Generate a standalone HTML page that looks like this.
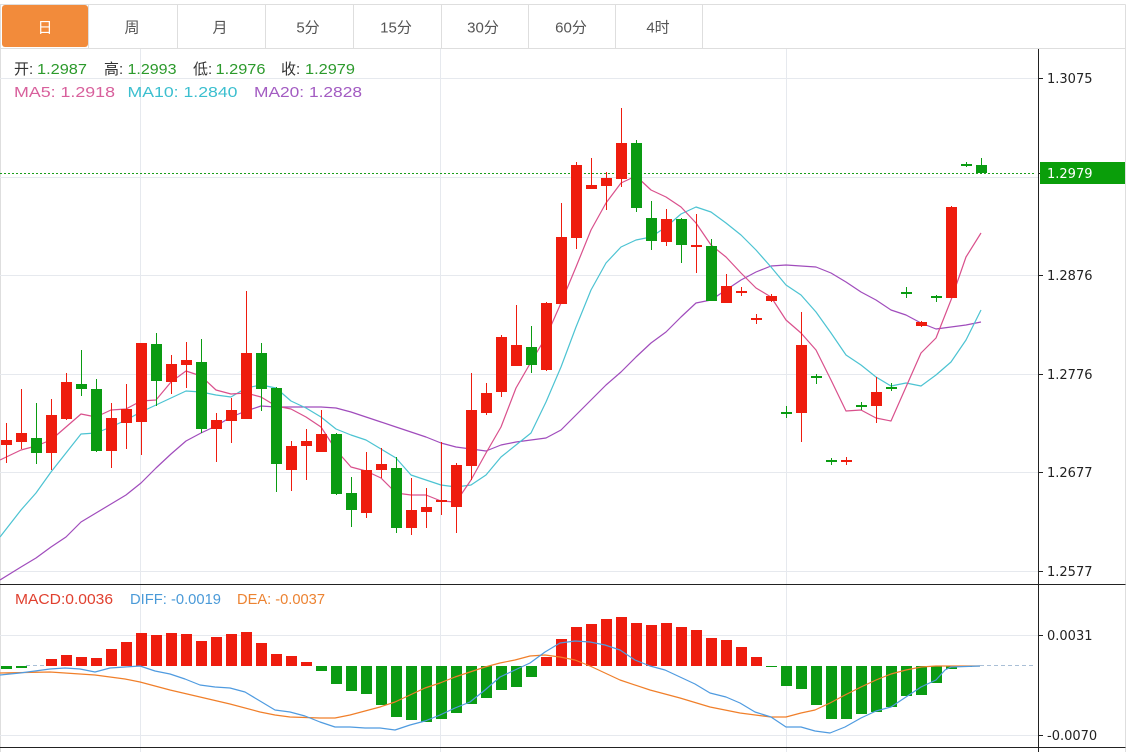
<!DOCTYPE html>
<html><head><meta charset="utf-8"><style>
html,body{margin:0;padding:0;background:#fff;}
svg{display:block;}
.t{font-family:"Liberation Sans","Noto Sans CJK SC",sans-serif;}
.ax{font-family:"DejaVu Sans","Liberation Sans",sans-serif;font-size:13px;fill:#222;}
</style></head><body>
<svg width="1135" height="752" viewBox="0 0 1135 752" xmlns="http://www.w3.org/2000/svg">
<rect width="1135" height="752" fill="#fff"/>
<g stroke="#dedede" stroke-width="1" fill="none">
<line x1="0" y1="4.5" x2="1125.5" y2="4.5"/>
<line x1="0" y1="48.5" x2="1125.5" y2="48.5"/>
<line x1="1125.5" y1="4.5" x2="1125.5" y2="752"/>
<line x1="0.5" y1="4.5" x2="0.5" y2="752"/>
<line x1="88.5" y1="5" x2="88.5" y2="48"/>
<line x1="177.5" y1="5" x2="177.5" y2="48"/>
<line x1="265.5" y1="5" x2="265.5" y2="48"/>
<line x1="353.5" y1="5" x2="353.5" y2="48"/>
<line x1="441.5" y1="5" x2="441.5" y2="48"/>
<line x1="528.5" y1="5" x2="528.5" y2="48"/>
<line x1="615.5" y1="5" x2="615.5" y2="48"/>
<line x1="702.5" y1="5" x2="702.5" y2="48"/>
</g>
<rect x="2" y="5" width="86" height="42" rx="3" fill="#f28b3b"/>
<g class="t" font-size="15" text-anchor="middle" fill="#555">
<text x="45" y="32.5" fill="#fff">日</text>
<text x="132" y="32.5">周</text>
<text x="220" y="32.5">月</text>
<text x="308" y="32.5">5分</text>
<text x="396" y="32.5">15分</text>
<text x="483" y="32.5">30分</text>
<text x="571" y="32.5">60分</text>
<text x="658" y="32.5">4时</text>
</g>
<g stroke="#e6e9ee" stroke-width="1">
<line x1="0" y1="78.5" x2="1038" y2="78.5"/>
<line x1="0" y1="177.5" x2="1038" y2="177.5"/>
<line x1="0" y1="275.5" x2="1038" y2="275.5"/>
<line x1="0" y1="374.5" x2="1038" y2="374.5"/>
<line x1="0" y1="472.5" x2="1038" y2="472.5"/>
<line x1="0" y1="571.5" x2="1038" y2="571.5"/>
<line x1="0" y1="635.5" x2="1038" y2="635.5"/>
<line x1="0" y1="735.5" x2="1038" y2="735.5"/>
<line x1="140.5" y1="49" x2="140.5" y2="752"/>
<line x1="440.5" y1="49" x2="440.5" y2="752"/>
<line x1="786.5" y1="49" x2="786.5" y2="752"/>
</g>
<g class="t" font-size="15">
<text x="14" y="74" fill="#333">开:</text>
<text x="37" y="74" fill="#2c9a2c" textLength="50" lengthAdjust="spacingAndGlyphs">1.2987</text>
<text x="104" y="74" fill="#333">高:</text>
<text x="127.5" y="74" fill="#2c9a2c" textLength="49" lengthAdjust="spacingAndGlyphs">1.2993</text>
<text x="193" y="74" fill="#333">低:</text>
<text x="215.5" y="74" fill="#2c9a2c" textLength="50" lengthAdjust="spacingAndGlyphs">1.2976</text>
<text x="281" y="74" fill="#333">收:</text>
<text x="305" y="74" fill="#2c9a2c" textLength="50" lengthAdjust="spacingAndGlyphs">1.2979</text>
<text x="14" y="97" fill="#d8609c" textLength="101" lengthAdjust="spacingAndGlyphs">MA5: 1.2918</text>
<text x="127.5" y="97" fill="#3cbfcf" textLength="110" lengthAdjust="spacingAndGlyphs">MA10: 1.2840</text>
<text x="254" y="97" fill="#a35cc2" textLength="108" lengthAdjust="spacingAndGlyphs">MA20: 1.2828</text>
<text x="15" y="604" fill="#e0402f" textLength="98" lengthAdjust="spacingAndGlyphs">MACD:0.0036</text>
<text x="130" y="604" fill="#4a9ad8" textLength="91" lengthAdjust="spacingAndGlyphs">DIFF: -0.0019</text>
<text x="237" y="604" fill="#ec8332" textLength="88" lengthAdjust="spacingAndGlyphs">DEA: -0.0037</text>
</g>
<line x1="0" y1="173.5" x2="1036" y2="173.5" stroke="#1a9e1a" stroke-width="1" stroke-dasharray="2,2"/>
<g fill="none" stroke-width="1.2" stroke-linejoin="round">
<polyline stroke="#a04cbc" points="0,580 21,567 36,558 51,547 66,537 81,522 96,513 111,504 126,495 141,483 156,468 171,454 186,441 201,433 216,426 231,417 246,411 261,406 276,407 291,407 306,407 321,407 336,408 351,412 366,417 381,422 396,427 411,432 426,437 441,443 456,447 471,449 486,451 501,445 516,442 531,440 546,438 561,430 576,415 591,400 606,385 621,372 636,357 651,343 666,332 681,317 696,303 711,300 726,290 741,280 756,272 771,266 786,265 801,266 816,267 831,273 846,282 861,292 876,300 891,310 906,315 921,323 936,329 951,327 966,325 981,322"/>
<polyline stroke="#4cc3d2" points="0,537 21,510 36,493 51,472 66,453 81,434 96,433 111,427 126,420 141,412 156,405 171,398 186,391 201,392 216,395 231,397 246,388 261,385 276,388 291,401 306,408 321,417 336,429 351,435 366,440 381,449 396,458 411,475 426,480 441,485 456,487 471,485 486,475 501,457 516,445 531,433 546,402 561,367 576,327 591,290 606,263 621,247 636,240 651,237 666,227 681,214 696,207 711,212 726,223 741,235 756,250 771,267 786,285 801,295 816,312 831,333 846,355 861,365 876,377 891,386 906,383 921,386 936,375 951,362 966,340 981,310"/>
<polyline stroke="#d9508c" points="0,460 21,450 36,446 51,440 66,427 81,414 96,417 111,410 126,409 141,401 156,400 171,382 186,371 201,376 216,390 231,394 246,393 261,397 276,406 291,409 306,417 321,427 336,450 351,467 366,471 381,478 396,493 411,495 426,495 441,501 456,502 471,480 486,453 501,427 516,388 531,362 546,337 561,303 576,267 591,230 606,203 621,183 636,176 651,190 666,197 681,207 696,223 711,245 726,257 741,273 756,288 771,297 786,320 801,333 816,350 831,380 846,411 861,410 876,418 891,421 906,387 921,353 936,338 951,300 966,257 981,233"/>
</g>
<g fill="#ee1c0e">
<rect x="1" y="440" width="11" height="5"/><rect x="6" y="423" width="1" height="40"/>
<rect x="16" y="433" width="11" height="9"/><rect x="21" y="389" width="1" height="60"/>
<rect x="46" y="415" width="11" height="38"/><rect x="51" y="399" width="1" height="71"/>
<rect x="61" y="382" width="11" height="37"/><rect x="66" y="373" width="1" height="47"/>
<rect x="106" y="418" width="11" height="33"/><rect x="111" y="403" width="1" height="65"/>
<rect x="121" y="409" width="11" height="14"/><rect x="126" y="384" width="1" height="65"/>
<rect x="136" y="343" width="11" height="79"/><rect x="141" y="343" width="1" height="112"/>
<rect x="166" y="364" width="11" height="18"/><rect x="171" y="355" width="1" height="39"/>
<rect x="181" y="360" width="11" height="5"/><rect x="186" y="342" width="1" height="46"/>
<rect x="211" y="420" width="11" height="9"/><rect x="216" y="413" width="1" height="49"/>
<rect x="226" y="410" width="11" height="11"/><rect x="231" y="398" width="1" height="45"/>
<rect x="241" y="353" width="11" height="66"/><rect x="246" y="291" width="1" height="128"/>
<rect x="286" y="446" width="11" height="24"/><rect x="291" y="441" width="1" height="50"/>
<rect x="301" y="441" width="11" height="5"/><rect x="306" y="429" width="1" height="51"/>
<rect x="316" y="434" width="11" height="18"/><rect x="321" y="410" width="1" height="42"/>
<rect x="361" y="470" width="11" height="43"/><rect x="366" y="452" width="1" height="66"/>
<rect x="376" y="464" width="11" height="6"/><rect x="381" y="448" width="1" height="30"/>
<rect x="406" y="510" width="11" height="18"/><rect x="411" y="478" width="1" height="57"/>
<rect x="421" y="507" width="11" height="5"/><rect x="426" y="488" width="1" height="40"/>
<rect x="436" y="500" width="11" height="2"/><rect x="441" y="442" width="1" height="73"/>
<rect x="451" y="465" width="11" height="42"/><rect x="456" y="463" width="1" height="70"/>
<rect x="466" y="410" width="11" height="56"/><rect x="471" y="373" width="1" height="107"/>
<rect x="481" y="393" width="11" height="20"/><rect x="486" y="383" width="1" height="32"/>
<rect x="496" y="337" width="11" height="55"/><rect x="501" y="335" width="1" height="62"/>
<rect x="511" y="345" width="11" height="21"/><rect x="516" y="305" width="1" height="61"/>
<rect x="541" y="303" width="11" height="67"/><rect x="546" y="302" width="1" height="69"/>
<rect x="556" y="237" width="11" height="67"/><rect x="561" y="203" width="1" height="101"/>
<rect x="571" y="165" width="11" height="73"/><rect x="576" y="162" width="1" height="87"/>
<rect x="586" y="185" width="11" height="4"/><rect x="591" y="158" width="1" height="31"/>
<rect x="601" y="178" width="11" height="8"/><rect x="606" y="172" width="1" height="38"/>
<rect x="616" y="143" width="11" height="36"/><rect x="621" y="108" width="1" height="79"/>
<rect x="661" y="219" width="11" height="23"/><rect x="666" y="209" width="1" height="37"/>
<rect x="691" y="245" width="11" height="2"/><rect x="696" y="214" width="1" height="59"/>
<rect x="721" y="286" width="11" height="17"/><rect x="726" y="274" width="1" height="29"/>
<rect x="736" y="291" width="11" height="2"/><rect x="741" y="287" width="1" height="9"/>
<rect x="751" y="318" width="11" height="2"/><rect x="756" y="314" width="1" height="10"/>
<rect x="766" y="296" width="11" height="5"/><rect x="771" y="294" width="1" height="8"/>
<rect x="796" y="345" width="11" height="68"/><rect x="801" y="312" width="1" height="130"/>
<rect x="841" y="460" width="11" height="2"/><rect x="846" y="457" width="1" height="8"/>
<rect x="871" y="392" width="11" height="14"/><rect x="876" y="377" width="1" height="46"/>
<rect x="916" y="322" width="11" height="4"/><rect x="921" y="321" width="1" height="6"/>
<rect x="946" y="207" width="11" height="91"/><rect x="951" y="206" width="1" height="92"/>
</g>
<g fill="#0a9b12">
<rect x="31" y="438" width="11" height="15"/><rect x="36" y="403" width="1" height="61"/>
<rect x="76" y="384" width="11" height="5"/><rect x="81" y="350" width="1" height="46"/>
<rect x="91" y="389" width="11" height="62"/><rect x="96" y="379" width="1" height="73"/>
<rect x="151" y="344" width="11" height="37"/><rect x="156" y="333" width="1" height="73"/>
<rect x="196" y="362" width="11" height="67"/><rect x="201" y="339" width="1" height="94"/>
<rect x="256" y="353" width="11" height="36"/><rect x="261" y="343" width="1" height="68"/>
<rect x="271" y="388" width="11" height="76"/><rect x="276" y="387" width="1" height="105"/>
<rect x="331" y="434" width="11" height="60"/><rect x="336" y="433" width="1" height="62"/>
<rect x="346" y="493" width="11" height="17"/><rect x="351" y="477" width="1" height="50"/>
<rect x="391" y="468" width="11" height="60"/><rect x="396" y="457" width="1" height="76"/>
<rect x="526" y="347" width="11" height="18"/><rect x="531" y="326" width="1" height="47"/>
<rect x="631" y="143" width="11" height="65"/><rect x="636" y="140" width="1" height="72"/>
<rect x="646" y="218" width="11" height="23"/><rect x="651" y="201" width="1" height="49"/>
<rect x="676" y="219" width="11" height="26"/><rect x="681" y="218" width="1" height="45"/>
<rect x="706" y="246" width="11" height="55"/><rect x="711" y="239" width="1" height="62"/>
<rect x="781" y="412" width="11" height="2"/><rect x="786" y="406" width="1" height="12"/>
<rect x="811" y="376" width="11" height="2"/><rect x="816" y="374" width="1" height="10"/>
<rect x="826" y="460" width="11" height="2"/><rect x="831" y="458" width="1" height="7"/>
<rect x="856" y="405" width="11" height="2"/><rect x="861" y="402" width="1" height="8"/>
<rect x="886" y="387" width="11" height="2"/><rect x="891" y="383" width="1" height="8"/>
<rect x="901" y="292" width="11" height="2"/><rect x="906" y="287" width="1" height="11"/>
<rect x="931" y="296" width="11" height="2"/><rect x="936" y="295" width="1" height="7"/>
<rect x="961" y="164" width="11" height="2"/><rect x="966" y="162" width="1" height="5"/>
<rect x="976" y="165" width="11" height="8"/><rect x="981" y="158" width="1" height="16"/>
</g>
<g fill="#ee1c0e">
<rect x="46" y="659" width="11" height="7"/>
<rect x="61" y="655" width="11" height="11"/>
<rect x="76" y="657" width="11" height="9"/>
<rect x="91" y="658" width="11" height="8"/>
<rect x="106" y="649" width="11" height="17"/>
<rect x="121" y="642" width="11" height="24"/>
<rect x="136" y="633" width="11" height="33"/>
<rect x="151" y="635" width="11" height="31"/>
<rect x="166" y="633" width="11" height="33"/>
<rect x="181" y="634" width="11" height="32"/>
<rect x="196" y="641" width="11" height="25"/>
<rect x="211" y="637" width="11" height="29"/>
<rect x="226" y="634" width="11" height="32"/>
<rect x="241" y="632" width="11" height="34"/>
<rect x="256" y="643" width="11" height="23"/>
<rect x="271" y="654" width="11" height="12"/>
<rect x="286" y="656" width="11" height="10"/>
<rect x="301" y="662" width="11" height="4"/>
<rect x="541" y="657" width="11" height="9"/>
<rect x="556" y="639" width="11" height="27"/>
<rect x="571" y="627" width="11" height="39"/>
<rect x="586" y="624" width="11" height="42"/>
<rect x="601" y="619" width="11" height="47"/>
<rect x="616" y="617" width="11" height="49"/>
<rect x="631" y="623" width="11" height="43"/>
<rect x="646" y="625" width="11" height="41"/>
<rect x="661" y="623" width="11" height="43"/>
<rect x="676" y="627" width="11" height="39"/>
<rect x="691" y="630" width="11" height="36"/>
<rect x="706" y="638" width="11" height="28"/>
<rect x="721" y="640" width="11" height="26"/>
<rect x="736" y="647" width="11" height="19"/>
<rect x="751" y="657" width="11" height="9"/>
</g>
<g fill="#0a9b12">
<rect x="1" y="666" width="11" height="3"/>
<rect x="16" y="666" width="11" height="2"/>
<rect x="316" y="666" width="11" height="5"/>
<rect x="331" y="666" width="11" height="18"/>
<rect x="346" y="666" width="11" height="25"/>
<rect x="361" y="666" width="11" height="28"/>
<rect x="376" y="666" width="11" height="39"/>
<rect x="391" y="666" width="11" height="51"/>
<rect x="406" y="666" width="11" height="54"/>
<rect x="421" y="666" width="11" height="56"/>
<rect x="436" y="666" width="11" height="53"/>
<rect x="451" y="666" width="11" height="47"/>
<rect x="466" y="666" width="11" height="38"/>
<rect x="481" y="666" width="11" height="32"/>
<rect x="496" y="666" width="11" height="24"/>
<rect x="511" y="666" width="11" height="21"/>
<rect x="526" y="666" width="11" height="11"/>
<rect x="766" y="666" width="11" height="1"/>
<rect x="781" y="666" width="11" height="20"/>
<rect x="796" y="666" width="11" height="23"/>
<rect x="811" y="666" width="11" height="39"/>
<rect x="826" y="666" width="11" height="53"/>
<rect x="841" y="666" width="11" height="53"/>
<rect x="856" y="666" width="11" height="48"/>
<rect x="871" y="666" width="11" height="46"/>
<rect x="886" y="666" width="11" height="41"/>
<rect x="901" y="666" width="11" height="30"/>
<rect x="916" y="666" width="11" height="29"/>
<rect x="931" y="666" width="11" height="17"/>
<rect x="946" y="666" width="11" height="3"/>
<rect x="961" y="666" width="11" height="1"/>
</g>
<line x1="980" y1="665.5" x2="1036" y2="665.5" stroke="#a9bfd6" stroke-width="1" stroke-dasharray="4,3"/>
<line x1="26" y1="665.5" x2="46" y2="665.5" stroke="#a9bfd6" stroke-width="1" stroke-dasharray="4,3"/>
<g fill="none" stroke-width="1.2" stroke-linejoin="round">
<polyline stroke="#f07f2a" points="0,673 50,672 65,673 95,675 110,677 125,679 140,682 170,690 200,697 230,704 260,712 275,715 290,717 320,718 335,718 350,715 365,711 380,707 395,702 410,695 425,688 440,683 455,677 470,672 485,667 500,663 515,660 530,656 545,655 560,657 575,660 590,666 605,673 620,680 650,690 680,698 710,707 740,713 771,717 786,717 801,713 815,710 830,703 845,695 861,687 876,680 891,674 906,670 921,667 936,666 980,666"/>
<polyline stroke="#4f9be0" points="0,675 20,673 50,669 65,668 80,669 95,672 110,668 125,667 140,666 155,671 170,674 185,679 200,685 215,687 230,688 245,692 260,701 275,710 290,712 305,716 320,722 335,727 350,727 365,728 380,728 395,730 410,725 425,721 440,715 455,708 470,702 485,690 500,677 515,670 530,663 545,652 560,643 575,641 590,642 605,645 620,650 635,660 650,666 665,670 680,677 695,684 710,693 726,697 740,703 755,712 771,717 786,727 801,727 815,731 830,733 845,727 861,718 876,711 891,707 906,697 921,687 936,680 945,670 951,667 980,666"/>
</g>
<line x1="0" y1="584.5" x2="1125.5" y2="584.5" stroke="#222" stroke-width="1"/>
<line x1="0" y1="747.5" x2="1125.5" y2="747.5" stroke="#222" stroke-width="1"/>
<line x1="1038.5" y1="49" x2="1038.5" y2="752" stroke="#222" stroke-width="1"/>
<g stroke="#222" stroke-width="1">
<line x1="1038" y1="78.5" x2="1043" y2="78.5"/>
<line x1="1038" y1="173.5" x2="1043" y2="173.5"/>
<line x1="1038" y1="275.5" x2="1043" y2="275.5"/>
<line x1="1038" y1="374.5" x2="1043" y2="374.5"/>
<line x1="1038" y1="472.5" x2="1043" y2="472.5"/>
<line x1="1038" y1="571.5" x2="1043" y2="571.5"/>
<line x1="1038" y1="635.5" x2="1043" y2="635.5"/>
<line x1="1038" y1="735.5" x2="1043" y2="735.5"/>
</g>
<rect x="1040" y="162" width="85" height="22" fill="#0a9e0a"/>
<g class="ax">
<text x="1047" y="83">1.3075</text>
<text x="1047" y="178" fill="#fff">1.2979</text>
<text x="1047" y="280">1.2876</text>
<text x="1047" y="379">1.2776</text>
<text x="1047" y="477">1.2677</text>
<text x="1047" y="576">1.2577</text>
<text x="1047" y="640">0.0031</text>
<text x="1047" y="740">-0.0070</text>
</g>
</svg>
</body></html>
